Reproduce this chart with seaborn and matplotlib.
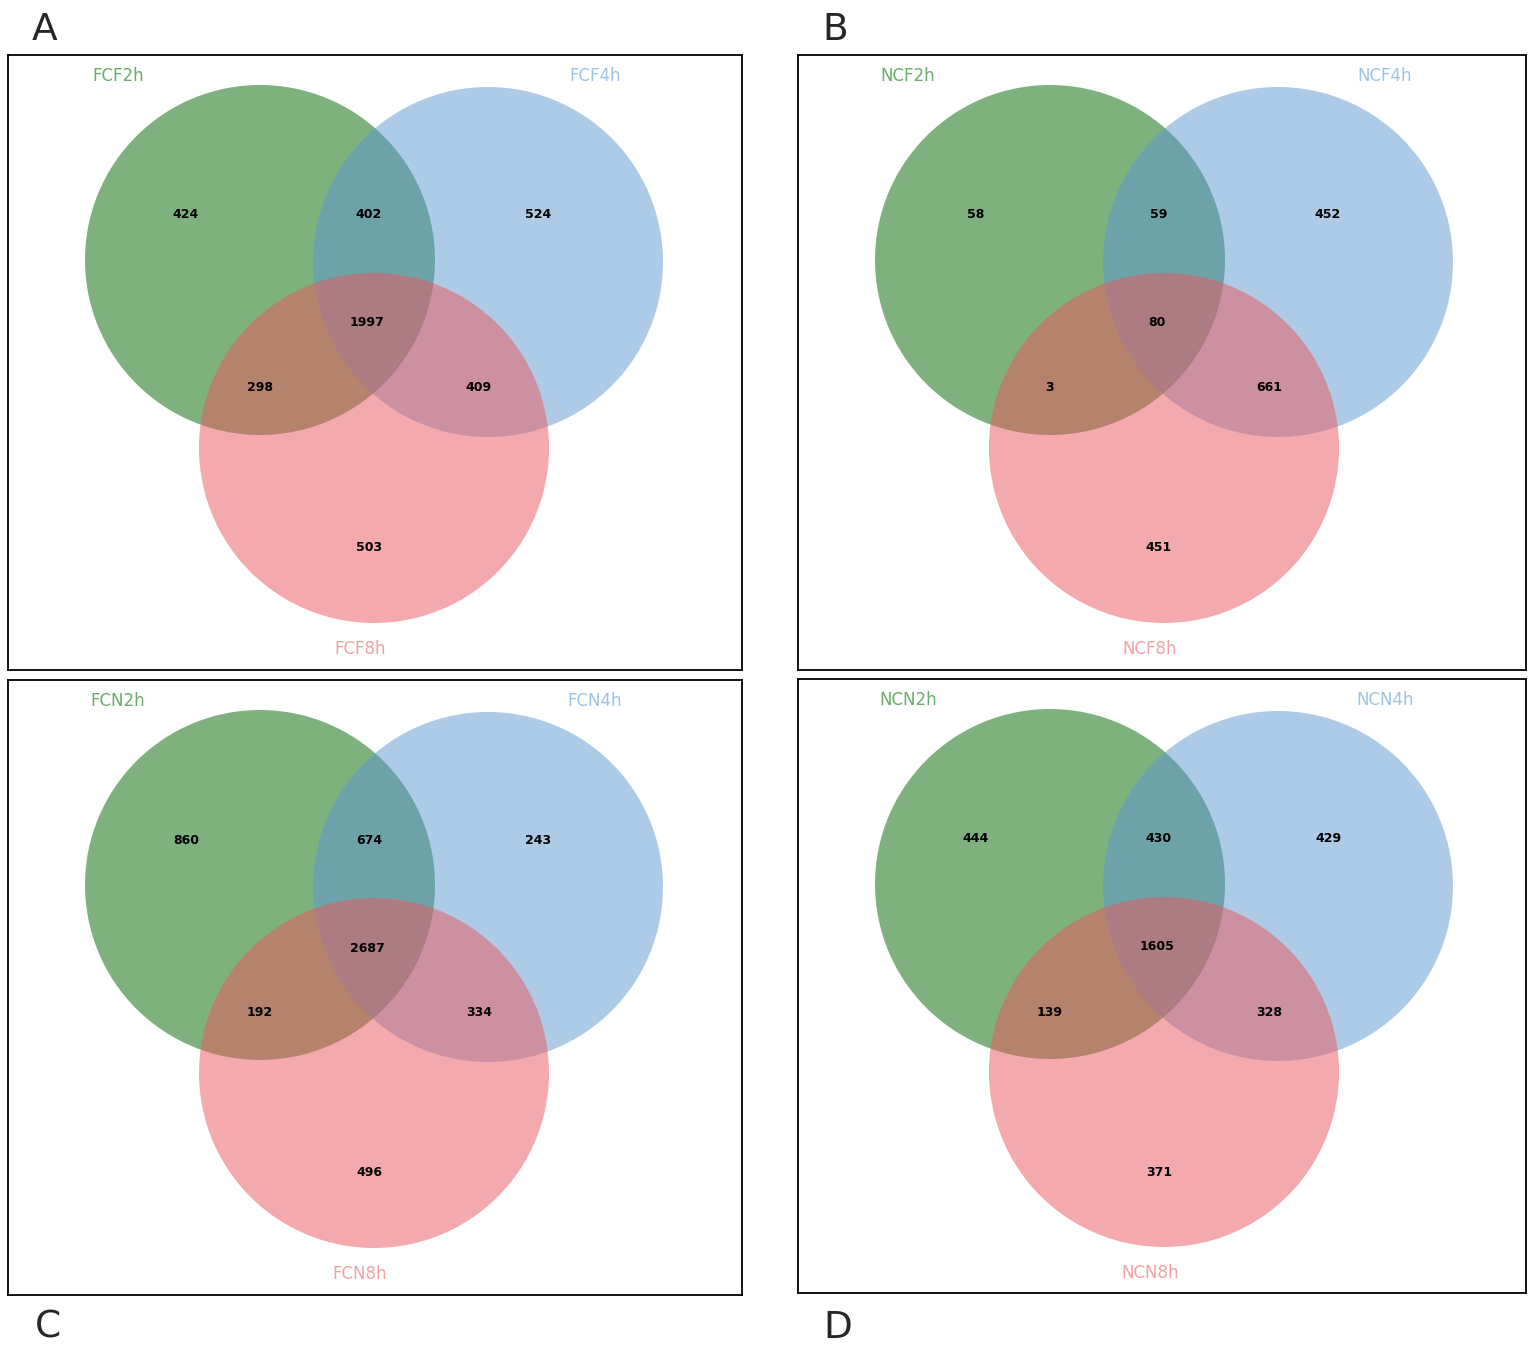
import matplotlib
matplotlib.use("Agg")
import matplotlib.pyplot as plt
from matplotlib.patches import Circle
import seaborn as sns

sns.set_theme(style="white")

panel_letters = ["A", "B", "C", "D"]
set_names = [["FCF2h", "FCF4h", "FCF8h"],
             ["NCF2h", "NCF4h", "NCF8h"],
             ["FCN2h", "FCN4h", "FCN8h"],
             ["NCN2h", "NCN4h", "NCN8h"]]
# order: only1, 1&2, only2, all, 1&3, 2&3, only3
counts_A = [424, 402, 524, 1997, 298, 409, 503]
counts_B = [58, 59, 452, 80, 3, 661, 451]
counts_C = [860, 674, 243, 2687, 192, 334, 496]
counts_D = [444, 430, 429, 1605, 139, 328, 371]
all_counts = [counts_A, counts_B, counts_C, counts_D]

W, H = 1535, 1353
fig = plt.figure(figsize=(W / 100, H / 100), dpi=100)

boxes = [(8, 55, 734, 615), (798, 55, 728, 615), (8, 680, 734, 615), (798, 679, 728, 614)]
letter_pos = [(45, 30), (835, 30), (48, 1328), (838, 1328)]

fills = ["#006400", "#5D97D1", "#EB575D"]
name_colors = ["#6aaa6a", "#9cc3e8", "#f4a0a4"]
centers = [(252, 205), (480, 207), (366, 393)]
R = 175
num_pos = [(178, 160), (361, 160), (530, 160), (359, 268), (252, 333), (471, 333), (361, 493)]
name_pos = [(110, 21), (587, 21), (352, 594)]

for i in range(4):
    x0, y0, bw, bh = boxes[i]
    ax = fig.add_axes([x0 / W, 1 - (y0 + bh) / H, bw / W, bh / H])
    ax.set_xlim(0, bw)
    ax.set_ylim(bh, 0)
    ax.set_xticks([]); ax.set_yticks([])
    for s in ax.spines.values():
        s.set_visible(True); s.set_color("black"); s.set_linewidth(1.3)
    for c, col in zip(centers, fills):
        ax.add_patch(Circle(c, R, facecolor=col, alpha=0.5, edgecolor="none"))
    for (px, py), v in zip(num_pos, all_counts[i]):
        ax.text(px, py, str(v), ha="center", va="center", fontsize=9, fontweight="bold", color="black")
    for (px, py), nm, col in zip(name_pos, set_names[i], name_colors):
        ax.text(px, py, nm, ha="center", va="center", fontsize=12, color=col)
    fig.text(letter_pos[i][0] / W, 1 - letter_pos[i][1] / H, panel_letters[i],
             ha="center", va="center", fontsize=27)

fig.savefig("out.png", dpi=100)
